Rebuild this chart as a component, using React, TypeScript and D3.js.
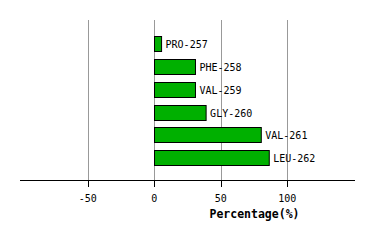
import React from "react";
import * as d3 from "d3";

const categories = ["PRO-257", "PHE-258", "VAL-259", "GLY-260", "VAL-261", "LEU-262"];
const values = [5.5, 31, 31, 39, 80.5, 86.5];
const ticks = [-50, 0, 50, 100];
const axisTitle = "Percentage(%)";

export default function App() {
  const W = 374, H = 240;
  const x = d3.scaleLinear().domain([-101, 151]).range([20, 355]);
  const y = d3.scaleBand<string>().domain(categories).range([32.6, 169.1]).paddingInner(0.34).paddingOuter(0.17);
  const axisY = 180.5;
  const mono = "'DejaVu Sans Mono', monospace";
  return (
    <svg width={W} height={H} style={{ position: "absolute", left: 0, top: 0, background: "#fff" }}>
      <rect x={0} y={0} width={W} height={H} fill="#fff" />
      {ticks.map((t) => (
        <line key={"g" + t} x1={Math.round(x(t)) + 0.5} x2={Math.round(x(t)) + 0.5} y1={20} y2={axisY} stroke="#999" strokeWidth={1} />
      ))}
      {categories.map((c, i) => {
        const x0 = Math.round(x(0)) + 0.5;
        const x1 = x(values[i]);
        const yy = Math.round(y(c)!) + 0.5;
        return (
          <g key={c}>
            <rect x={x0} y={yy} width={x1 - x0} height={Math.round(y.bandwidth())} fill="#00b000" stroke="#000" strokeWidth={1} />
            <text x={x1 + 4} y={yy + y.bandwidth() / 2 + 3.5} fontFamily={mono} fontSize={10} fill="#000">{c}</text>
          </g>
        );
      })}
      <line x1={20} x2={355} y1={axisY} y2={axisY} stroke="#000" strokeWidth={1} />
      {ticks.map((t) => (
        <g key={"t" + t}>
          <line x1={Math.round(x(t)) + 0.5} x2={Math.round(x(t)) + 0.5} y1={axisY} y2={187} stroke="#000" strokeWidth={1} />
          <text x={x(t)} y={202} textAnchor="middle" fontFamily={mono} fontSize={10} fill="#000">{t}</text>
        </g>
      ))}
      <text x={254.5} y={218} textAnchor="middle" fontFamily={mono} fontSize={11.5} fontWeight="bold" fill="#000">{axisTitle}</text>
    </svg>
  );
}
